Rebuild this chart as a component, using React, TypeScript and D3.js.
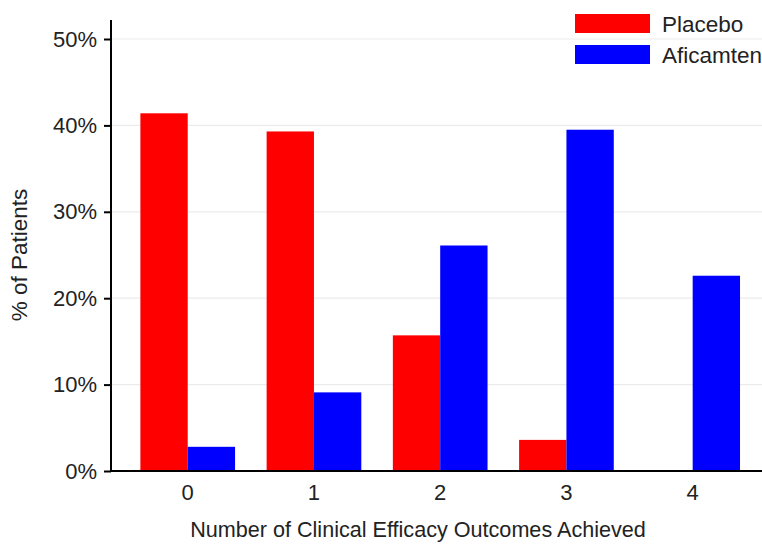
import React, { useEffect, useRef } from "react";
import * as d3 from "d3";

const categories = ["0", "1", "2", "3", "4"];
const series = ["Placebo", "Aficamten"];
const placebo = [41.4, 39.3, 15.7, 3.6, 0];
const aficamten = [2.8, 9.1, 26.1, 39.5, 22.6];
const yTicks = [0, 10, 20, 30, 40, 50];
const colors = ["#ff0000", "#0000ff"];

const App = () => {
  const chart = useRef<SVGSVGElement>(null);

  useEffect(() => {
    const width = 762;
    const height = 544;
    const margin = { top: 20, left: 111, bottom: 73, right: 0 };
    const font = "'Liberation Sans', Arial, sans-serif";

    const svg = d3.select(chart.current);
    svg.selectAll("*").remove();

    const y = d3
      .scaleLinear()
      .domain([0, 50])
      .range([471, 39]);

    const x = d3
      .scaleBand()
      .domain(categories)
      .range([124.6, 755.8])
      .paddingInner(0.25)
      .paddingOuter(0.125);

    const x1 = d3
      .scaleBand()
      .domain(series)
      .range([0, x.bandwidth()]);

    const color = d3.scaleOrdinal<string, string>().domain(series).range(colors);

    // gridlines
    svg
      .append("g")
      .selectAll("line")
      .data(yTicks.filter((d) => d > 0))
      .enter()
      .append("line")
      .attr("x1", margin.left)
      .attr("x2", width)
      .attr("y1", (d) => y(d))
      .attr("y2", (d) => y(d))
      .attr("stroke", "#ebebeb")
      .attr("stroke-width", 1.2);

    const rows = categories.map((c, i) => ({
      cat: c,
      values: [
        { key: "Placebo", v: placebo[i] },
        { key: "Aficamten", v: aficamten[i] },
      ],
    }));

    svg
      .append("g")
      .selectAll("g")
      .data(rows)
      .enter()
      .append("g")
      .attr("transform", (d) => `translate(${x(d.cat)},0)`)
      .selectAll("rect")
      .data((d) => d.values)
      .enter()
      .append("rect")
      .attr("x", (d) => x1(d.key)!)
      .attr("y", (d) => y(d.v))
      .attr("width", x1.bandwidth())
      .attr("height", (d) => y(0) - y(d.v))
      .attr("fill", (d) => color(d.key));

    // y axis
    const yAxis = svg
      .append("g")
      .attr("transform", `translate(${margin.left},0)`)
      .call(
        d3
          .axisLeft(y)
          .tickValues(yTicks)
          .tickFormat((d) => `${d}%`)
          .tickSize(7)
          .tickPadding(7)
      );
    yAxis.select(".domain").attr("d", `M0,${margin.top}V${y(0)}`).attr("stroke-width", 2);
    yAxis.selectAll(".tick line").attr("stroke-width", 2);
    yAxis
      .selectAll("text")
      .style("font-family", font)
      .style("font-size", "22px")
      .attr("fill", "#222");

    // x axis
    const xAxis = svg
      .append("g")
      .attr("transform", `translate(0,${y(0)})`)
      .call(d3.axisBottom(x).tickSize(0).tickPadding(13));
    xAxis.select(".domain").attr("d", `M${margin.left},0H${width}`).attr("stroke-width", 2);
    xAxis
      .selectAll("text")
      .style("font-family", font)
      .style("font-size", "22px")
      .attr("fill", "#222");

    // axis titles
    svg
      .append("text")
      .attr("x", 418)
      .attr("y", 537)
      .attr("text-anchor", "middle")
      .style("font-family", font)
      .style("font-size", "21.6px")
      .attr("fill", "#222")
      .text("Number of Clinical Efficacy Outcomes Achieved");

    svg
      .append("text")
      .attr("transform", `translate(27,255) rotate(-90)`)
      .attr("text-anchor", "middle")
      .style("font-family", font)
      .style("font-size", "22.5px")
      .attr("fill", "#222")
      .text("% of Patients");

    // legend
    const legend = svg
      .append("g")
      .selectAll("g")
      .data(series)
      .enter()
      .append("g")
      .attr("transform", (d, i) => `translate(575,${14 + i * 31})`);
    legend
      .append("rect")
      .attr("width", 75)
      .attr("height", 19)
      .attr("fill", (d) => color(d));
    legend
      .append("text")
      .attr("x", 87)
      .attr("y", 18)
      .style("font-family", font)
      .style("font-size", "22.5px")
      .attr("fill", "#222")
      .text((d) => d);
  }, []);

  return (
    <svg
      ref={chart}
      width={762}
      height={544}
      style={{ position: "absolute", left: 0, top: 0, background: "#fff" }}
    ></svg>
  );
};

export default App;
